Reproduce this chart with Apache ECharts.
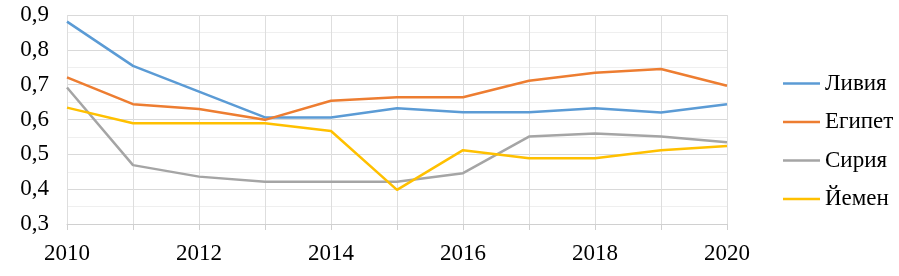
<!DOCTYPE html>
<html><head><meta charset="utf-8">
<script src="https://cdn.jsdelivr.net/npm/echarts@6/dist/echarts.min.js"></script>
<style>html,body{margin:0;padding:0;background:#fff}#c{width:899px;height:276px}</style>
</head><body><div id="c"></div>
<script>
const years = ['2010','2011','2012','2013','2014','2015','2016','2017','2018','2019','2020'];
const libya  = [0.881, 0.754, 0.680, 0.606, 0.606, 0.632, 0.621, 0.621, 0.632, 0.620, 0.644];
const egypt  = [0.721, 0.644, 0.630, 0.599, 0.654, 0.664, 0.664, 0.711, 0.734, 0.745, 0.697];
const syria  = [0.692, 0.469, 0.436, 0.421, 0.421, 0.421, 0.446, 0.551, 0.560, 0.551, 0.535];
const yemen  = [0.634, 0.589, 0.589, 0.589, 0.567, 0.398, 0.512, 0.489, 0.489, 0.512, 0.524];
const names  = ['Ливия','Египет','Сирия','Йемен'];
const colors = ['#5B9BD5','#ED7D31','#A5A5A5','#FFC000'];
const font = '"Liberation Serif","DejaVu Serif",serif';

const chart = echarts.init(document.getElementById('c'));
chart.setOption({
  animation: false,
  grid: {left: 67, right: 172, top: 15, bottom: 52},
  legend: {
    orient: 'vertical', left: 778, top: 67,
    icon: 'rect', itemWidth: 37, itemHeight: 2.5, itemGap: 15.5,
    textStyle: {fontFamily: font, fontSize: 23, lineHeight: 22, color: '#000'},
    data: names
  },
  xAxis: {
    type: 'category', data: years, boundaryGap: false,
    axisLine: {show: true, lineStyle: {color: '#d0d0d0', width: 1}},
    axisTick: {show: true, interval: 0, length: 6, lineStyle: {color: '#d0d0d0'}},
    axisLabel: {interval: 1, margin: 18, fontFamily: font, fontSize: 23, color: '#000'},
    splitLine: {show: true, interval: 0, lineStyle: {color: '#dedede', width: 1}}
  },
  yAxis: {
    type: 'value', min: 0.3, max: 0.9, interval: 0.1,
    axisLine: {show: false}, axisTick: {show: false},
    axisLabel: {margin: 18, fontFamily: font, fontSize: 23, color: '#000',
      formatter: v => v.toFixed(1).replace('.', ',')},
    splitLine: {show: true, lineStyle: {color: '#d9d9d9', width: 1}},
    minorTick: {show: false, splitNumber: 2},
    minorSplitLine: {show: true, lineStyle: {color: '#efefef', width: 1}}
  },
  series: [libya, egypt, syria, yemen].map((d, i) => ({
    name: names[i], type: 'line', data: d, symbol: 'none',
    lineStyle: {color: colors[i], width: 2.5}, itemStyle: {color: colors[i]}
  }))
});
</script></body></html>
